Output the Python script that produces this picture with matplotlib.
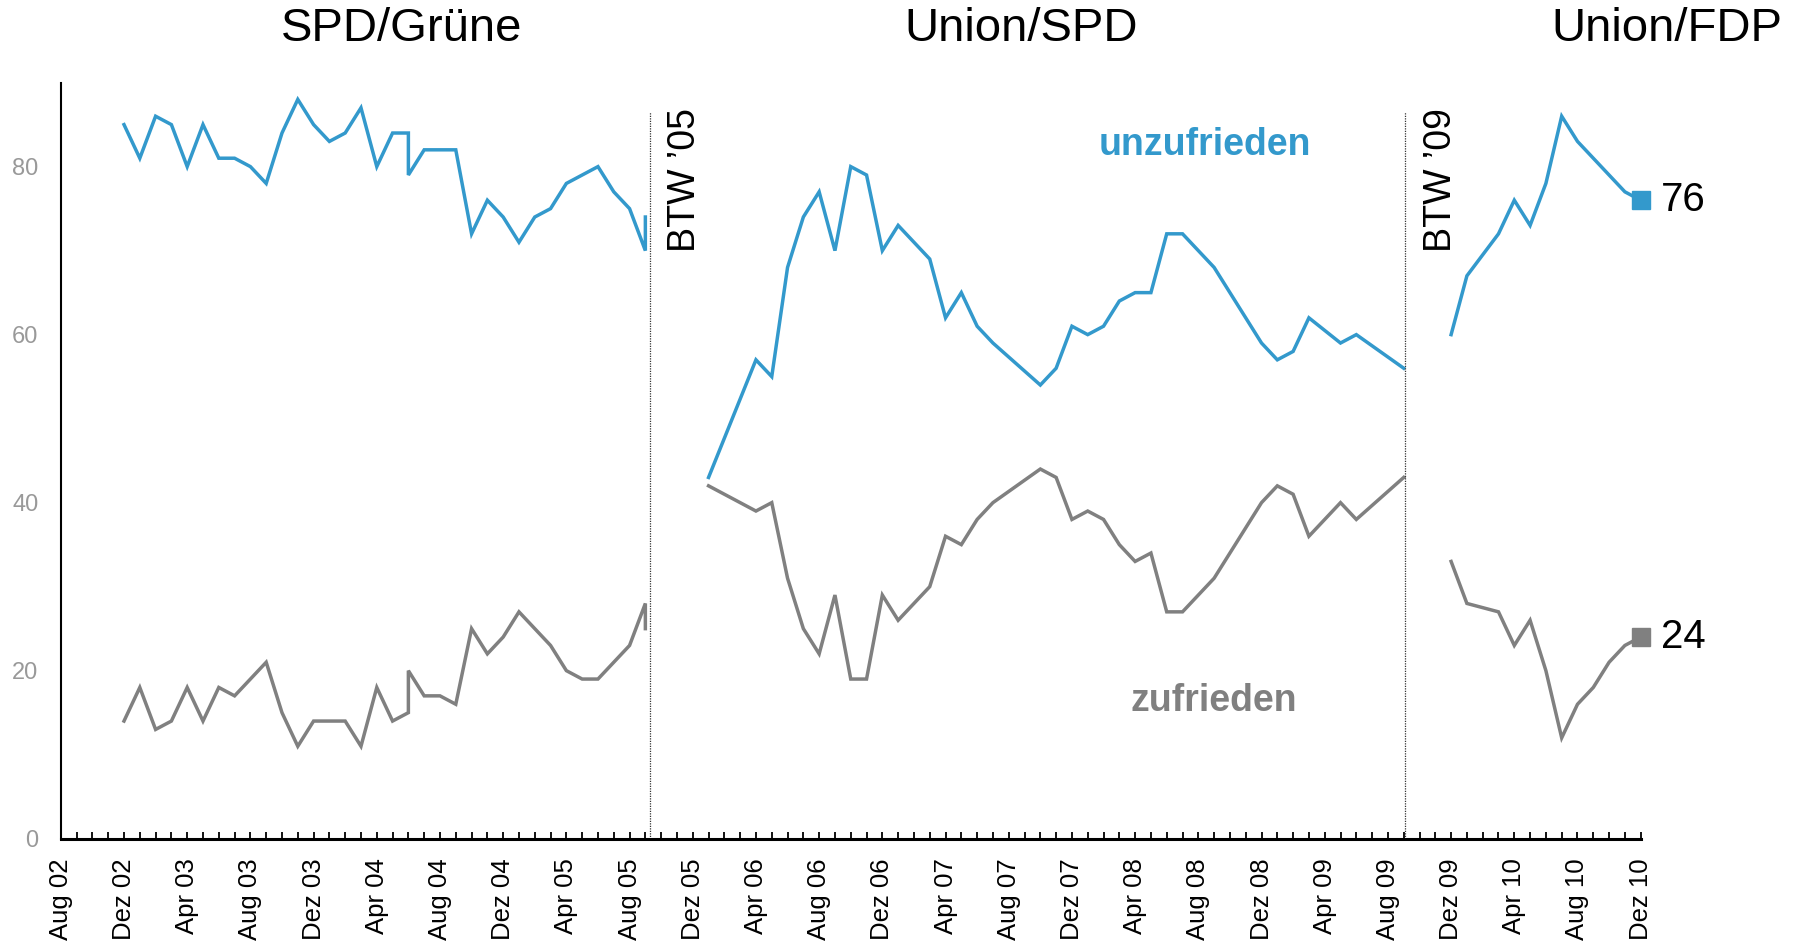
import matplotlib.pyplot as plt

plt.rcParams['font.family'] = ['Liberation Sans', 'DejaVu Sans']

BLUE = '#3399cc'
GREY = '#808080'

# months shown on the x axis: Aug 02 .. Dez 10
month_names = ['Jan', 'Feb', 'Mär', 'Apr', 'Mai', 'Jun',
               'Jul', 'Aug', 'Sep', 'Okt', 'Nov', 'Dez']
start_year, start_month = 2002, 8
n_months = 101

# SPD/Grüne (two surveys in Jun 04 and Sep 05)
months_1 = ['2002-12', '2003-01', '2003-02', '2003-03', '2003-04', '2003-05',
            '2003-06', '2003-07', '2003-08', '2003-09', '2003-10', '2003-11',
            '2003-12', '2004-01', '2004-02', '2004-03', '2004-04', '2004-05',
            '2004-06', '2004-06', '2004-07', '2004-08', '2004-09', '2004-10',
            '2004-11', '2004-12', '2005-01', '2005-02', '2005-03', '2005-04',
            '2005-05', '2005-06', '2005-07', '2005-08', '2005-09', '2005-09']
unzufrieden_1 = [85, 81, 86, 85, 80, 85, 81, 81, 80, 78, 84, 88,
                 85, 83, 84, 87, 80, 84, 84, 79, 82, 82, 82, 72,
                 76, 74, 71, 74, 75, 78, 79, 80, 77, 75, 70, 74]
zufrieden_1 = [14, 18, 13, 14, 18, 14, 18, 17, 19, 21, 15, 11,
               14, 14, 14, 11, 18, 14, 15, 20, 17, 17, 16, 25,
               22, 24, 27, 25, 23, 20, 19, 19, 21, 23, 28, 25]

# Union/SPD
months_2 = ['2006-01', '2006-04', '2006-05', '2006-06', '2006-07', '2006-08',
            '2006-09', '2006-10', '2006-11', '2006-12', '2007-01', '2007-02',
            '2007-03', '2007-04', '2007-05', '2007-06', '2007-07', '2007-10',
            '2007-11', '2007-12', '2008-01', '2008-02', '2008-03', '2008-04',
            '2008-05', '2008-06', '2008-07', '2008-09', '2008-12', '2009-01',
            '2009-02', '2009-03', '2009-05', '2009-06', '2009-09']
unzufrieden_2 = [43, 57, 55, 68, 74, 77, 70, 80, 79, 70, 73, 71,
                 69, 62, 65, 61, 59, 54, 56, 61, 60, 61, 64, 65,
                 65, 72, 72, 68, 59, 57, 58, 62, 59, 60, 56]
zufrieden_2 = [42, 39, 40, 31, 25, 22, 29, 19, 19, 29, 26, 28,
               30, 36, 35, 38, 40, 44, 43, 38, 39, 38, 35, 33,
               34, 27, 27, 31, 40, 42, 41, 36, 40, 38, 43]

# Union/FDP
months_3 = ['2009-12', '2010-01', '2010-03', '2010-04', '2010-05', '2010-06',
            '2010-07', '2010-08', '2010-09', '2010-10', '2010-11', '2010-12']
unzufrieden_3 = [60, 67, 72, 76, 73, 78, 86, 83, 81, 79, 77, 76]
zufrieden_3 = [33, 28, 27, 23, 26, 20, 12, 16, 18, 21, 23, 24]

# elections (month position)
btw_pos = [37.3, 85.1]
btw_labels = ['BTW ’05', 'BTW ’09']

coalitions = ['SPD/Grüne', 'Union/SPD', 'Union/FDP']
coalition_x = [0.2232, 0.5676, 0.9267]


def month_index(s):
    y, m = s.split('-')
    return (int(y) - start_year) * 12 + int(m) - start_month


fig = plt.figure(figsize=(17.99, 9.42), dpi=100)
ax = fig.add_axes([0.0338, 0.1097, 0.8782, 0.8026])

for months, unz, zuf in [(months_1, unzufrieden_1, zufrieden_1),
                         (months_2, unzufrieden_2, zufrieden_2),
                         (months_3, unzufrieden_3, zufrieden_3)]:
    x = [month_index(m) for m in months]
    ax.plot(x, unz, color=BLUE, lw=2.5, solid_joinstyle='miter')
    ax.plot(x, zuf, color=GREY, lw=2.5, solid_joinstyle='miter')

# end markers + values
x_end = month_index(months_3[-1])
ax.plot(x_end, unzufrieden_3[-1], 's', color=BLUE, ms=13, clip_on=False)
ax.plot(x_end, zufrieden_3[-1], 's', color=GREY, ms=13, clip_on=False)
ax.text(x_end + 1.3, unzufrieden_3[-1], str(unzufrieden_3[-1]), fontsize=29,
        ha='left', va='center')
ax.text(x_end + 1.3, zufrieden_3[-1], str(zufrieden_3[-1]), fontsize=29,
        ha='left', va='center')

# elections
for xb, lab in zip(btw_pos, btw_labels):
    ax.vlines(xb, 0, 86.5, colors='#333333', linestyles=(0, (1, 1)), lw=0.9)
    ax.text(xb + 1.1, 87.0, lab, rotation=90, fontsize=27, ha='left', va='top')

ax.text(72.4, 82.6, 'unzufrieden', color=BLUE, fontsize=27, fontweight='bold',
        ha='center', va='center')
ax.text(73.0, 16.4, 'zufrieden', color=GREY, fontsize=27, fontweight='bold',
        ha='center', va='center')

for name, fx in zip(coalitions, coalition_x):
    fig.text(fx, 0.9695, name, fontsize=34, ha='center', va='center')

ax.set_xlim(0, n_months - 1)
ax.set_ylim(0, 90)

labels = []
for i in range(n_months):
    m = (start_month - 1 + i) % 12
    y = start_year + (start_month - 1 + i) // 12
    labels.append(f'{month_names[m]} {y % 100:02d}' if i % 4 == 0 else '')
ax.set_xticks(range(n_months))
ax.set_xticklabels(labels, rotation=90)
ax.tick_params(axis='x', direction='in', length=5, width=1.3, pad=14,
               labelsize=18.5)

ax.set_yticks([0, 20, 40, 60, 80])
ax.tick_params(axis='y', length=0, pad=16, labelsize=17, labelcolor='#999999')

for s in ['top', 'right']:
    ax.spines[s].set_visible(False)
ax.spines['left'].set_linewidth(1.5)
ax.spines['bottom'].set_linewidth(2.2)

fig.savefig('out.png', dpi=100)
